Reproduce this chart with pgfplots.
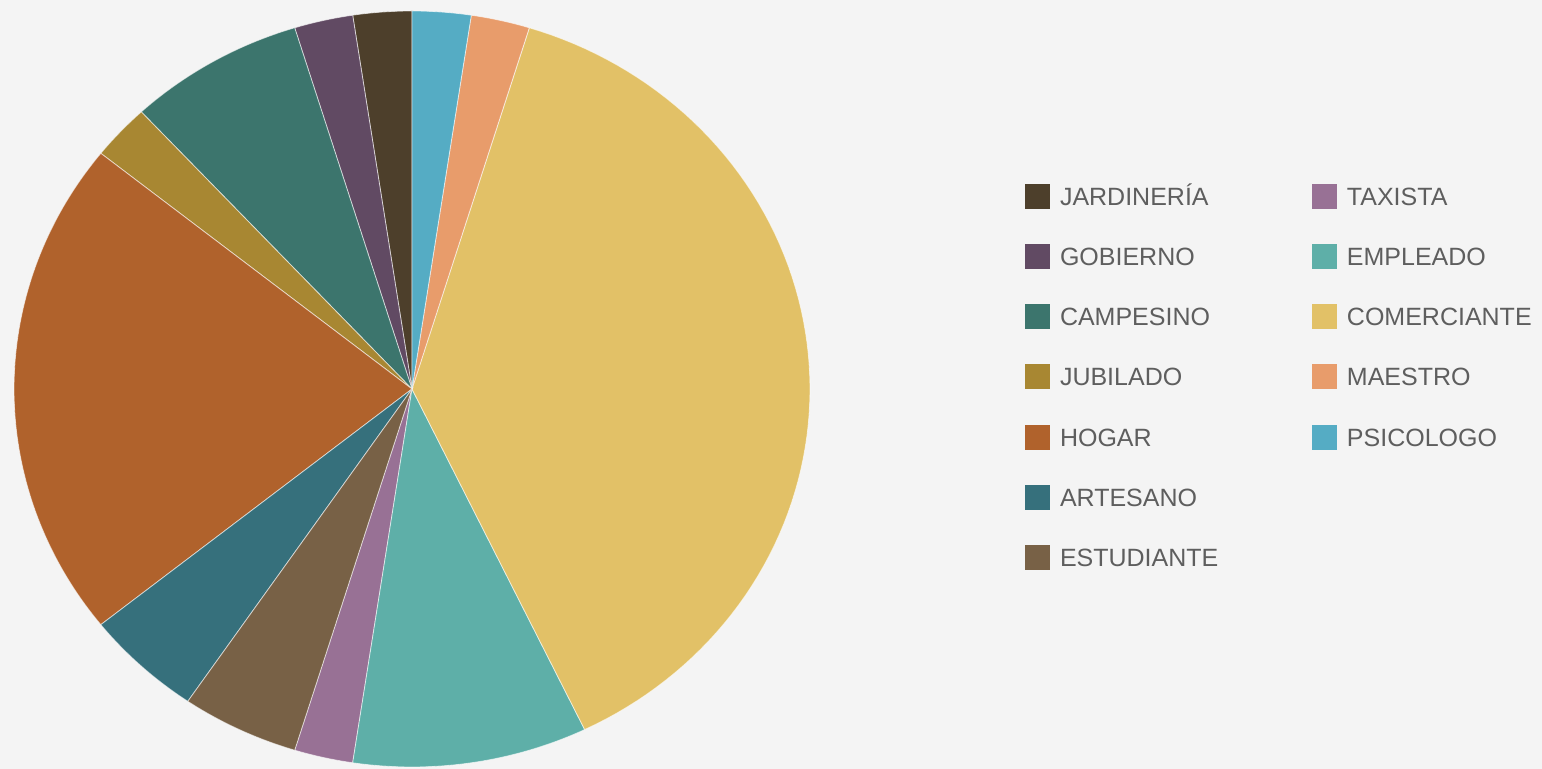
\documentclass[border=0pt]{standalone}
\usepackage{fontspec}
\setmainfont{Liberation Sans}
\usepackage{pgfplots}
\usepackage{pgfplotstable}
\pgfplotsset{compat=1.18}

\definecolor{bg}{HTML}{F4F4F4}
\definecolor{legtext}{HTML}{5E5E5E}
\definecolor{c0}{HTML}{4D3F2B}
\definecolor{c1}{HTML}{614A63}
\definecolor{c2}{HTML}{3C756D}
\definecolor{c3}{HTML}{A88732}
\definecolor{c4}{HTML}{B0622C}
\definecolor{c5}{HTML}{36707C}
\definecolor{c6}{HTML}{786146}
\definecolor{c7}{HTML}{987195}
\definecolor{c8}{HTML}{5EAFA8}
\definecolor{c9}{HTML}{E2C167}
\definecolor{c10}{HTML}{E89C6B}
\definecolor{c11}{HTML}{55ACC4}

% counts per occupation, counterclockwise from 12 o'clock
\pgfplotstableread[col sep=comma]{
label,value
JARDINERÍA,1
GOBIERNO,1
CAMPESINO,3
JUBILADO,1
HOGAR,9
ARTESANO,2
ESTUDIANTE,2
TAXISTA,1
EMPLEADO,4
COMERCIANTE,16
MAESTRO,1
PSICOLOGO,1
}\piedata

\begin{document}
\begin{tikzpicture}
\useasboundingbox (0,0) rectangle (771pt,384.5pt);
\fill[bg] (0,0) rectangle (771pt,384.5pt);
\begin{axis}[
  at={(7pt,1pt)}, anchor=south west,
  width=398pt, height=378pt, scale only axis,
  xmin=-1, xmax=1, ymin=-1, ymax=1,
  hide axis, clip=false,
  legend columns=2,
  legend cell align=left,
  legend image code/.code={\fill[#1,draw=none] (0pt,-6.25pt) rectangle (12.5pt,6.25pt);},
  legend style={
    at={(1.2701,0.7718)}, anchor=north west,
    draw=none, fill=none, inner sep=0pt, outer sep=0pt,
    row sep=17.65pt,
    font=\fontsize{12.5}{15}\selectfont, text=legtext,
    nodes={inner xsep=0pt, inner ysep=0pt, text height=9pt, text depth=0pt},
    /tikz/every odd column/.append style={column sep=5pt},
    /tikz/every even column/.append style={column sep=46.8pt},
  },
]
\pgfplotstablegetrowsof{\piedata}
\pgfmathtruncatemacro\nrows{\pgfplotsretval-1}
\def\total{0}
\pgfplotsforeachungrouped \i in {0,...,\nrows} {
  \pgfplotstablegetelem{\i}{value}\of\piedata
  \pgfmathsetmacro\total{\total+\pgfplotsretval}
}
% start and end angle of every slice
\def\startangle{90}
\pgfplotsforeachungrouped \i in {0,...,\nrows} {
  \pgfplotstablegetelem{\i}{value}\of\piedata
  \pgfmathsetmacro\endangle{\startangle+\pgfplotsretval*360/\total}
  \expandafter\xdef\csname sa\i\endcsname{\startangle}
  \expandafter\xdef\csname ea\i\endcsname{\endangle}
  \let\startangle\endangle
}
% drawn in legend order (two columns, filled row by row)
\pgfplotsforeachungrouped \i in {0,7,1,8,2,9,3,10,4,11,5,-1,6} {
  \ifnum\i<0
    \addlegendimage{empty legend}
    \addlegendentry{}
  \else
    \pgfplotstablegetelem{\i}{label}\of\piedata
    \let\lab\pgfplotsretval
    \edef\doplot{%
      \noexpand\addplot[fill=c\i, draw=white, draw opacity=0.6, line width=0.4pt,
        domain=\csname sa\i\endcsname:\csname ea\i\endcsname, samples=80, variable=\noexpand\t]
        ({cos(\noexpand\t)},{sin(\noexpand\t)}) -- (axis cs:0,0) -- cycle;
      \noexpand\addlegendentry{\lab}%
    }
    \doplot
  \fi
}
\end{axis}
\end{tikzpicture}
\end{document}
